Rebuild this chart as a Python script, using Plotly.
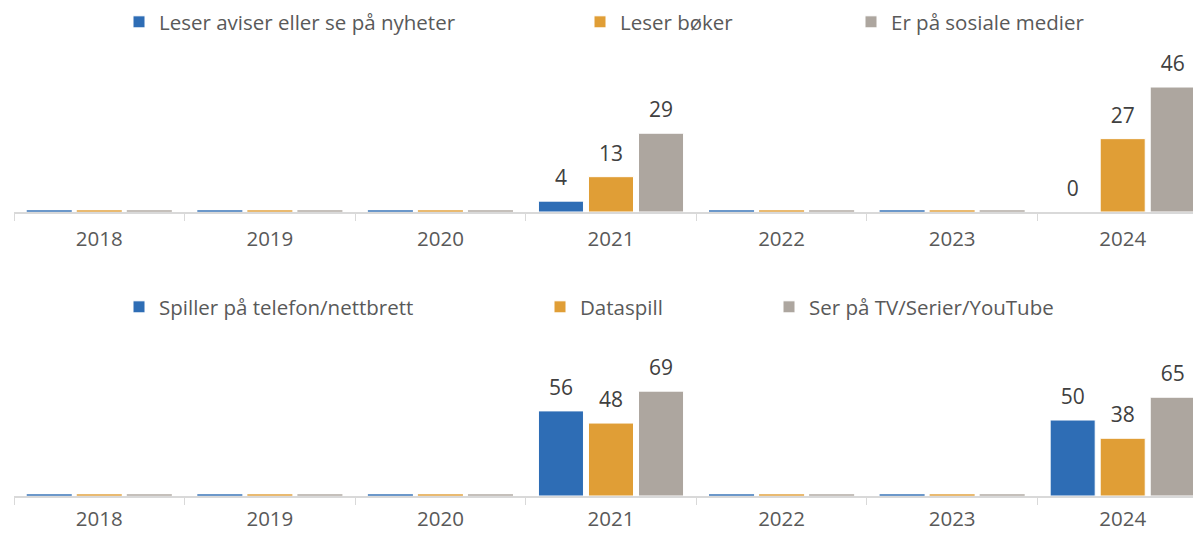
import plotly.graph_objects as go

years = ['2018', '2019', '2020', '2021', '2022', '2023', '2024']

# top panel
aviser = [None, None, None, 4, None, None, 0]
boker = [None, None, None, 13, None, None, 27]
sosiale = [None, None, None, 29, None, None, 46]

# bottom panel
telefon = [None, None, None, 56, None, None, 50]
dataspill = [None, None, None, 48, None, None, 38]
tv = [None, None, None, 69, None, None, 65]

BLUE = '#2E6DB5'
ORANGE = '#E09E36'
GRAY = '#ADA69F'
FONT = 'Open Sans'
# the page body has an 8px margin; plot runs a little past the right edge like the original
W, H = 1200, 525

fig = go.Figure()


def add_series(name, vals, color, grp, xa, ya, leg, stub, pad):
    fig.add_trace(go.Bar(
        x=years, y=vals, name=name, marker_color=color,
        marker_line=dict(color='white', width=1),
        offsetgroup=grp, xaxis=xa, yaxis=ya, legend=leg,
    ))
    # value labels, lifted a bit above the bar
    fig.add_trace(go.Bar(
        x=years, y=vals, base=[pad] * len(vals),
        text=[('' if v is None else str(v)) for v in vals],
        textposition='outside', cliponaxis=False,
        textfont=dict(size=21, color='#404040', family=FONT),
        marker_color='rgba(0,0,0,0)', marker_line_width=0,
        offsetgroup=grp, xaxis=xa, yaxis=ya, showlegend=False,
        hoverinfo='skip',
    ))
    # thin line where there is no data for the year
    fig.add_trace(go.Bar(
        x=years, y=[stub if v is None else None for v in vals],
        marker_color=color, opacity=0.7, marker_line_width=0,
        offsetgroup=grp, xaxis=xa, yaxis=ya, showlegend=False,
        hoverinfo='skip',
    ))


add_series('Leser aviser eller se på nyheter', aviser, BLUE, 'a', 'x', 'y', 'legend', 0.5, 2.6)
add_series('Leser bøker', boker, ORANGE, 'b', 'x', 'y', 'legend2', 0.5, 2.6)
add_series('Er på sosiale medier', sosiale, GRAY, 'c', 'x', 'y', 'legend3', 0.5, 2.6)
add_series('Spiller på telefon/nettbrett', telefon, BLUE, 'a', 'x2', 'y2', 'legend4', 0.9, 4.6)
add_series('Dataspill', dataspill, ORANGE, 'b', 'x2', 'y2', 'legend5', 0.9, 4.6)
add_series('Ser på TV/Serier/YouTube', tv, GRAY, 'c', 'x2', 'y2', 'legend6', 0.9, 4.6)

xax = dict(
    domain=[6 / W, 1], type='category', showline=True, linecolor='#D9D9D9',
    linewidth=1.5, ticks='outside', tickson='boundaries', ticklen=7,
    tickcolor='#D9D9D9', showgrid=False, zeroline=False, automargin=False,
    tickfont=dict(size=20.5, color='#595959', family=FONT),
)

leg = dict(orientation='h', xanchor='left', yanchor='middle',
           font=dict(size=20.5, color='#595959', family=FONT),
           bgcolor='rgba(0,0,0,0)', itemclick=False)

fig.update_layout(
    width=W, height=H,
    margin=dict(l=0, r=0, t=0, b=0, autoexpand=False),
    paper_bgcolor='white', plot_bgcolor='white',
    barmode='group', bargap=0.12, bargroupgap=0.1,
    font=dict(family=FONT, color='#595959'),
    xaxis=dict(xax, anchor='y', ticklabelstandoff=8),
    xaxis2=dict(xax, anchor='y2', ticklabelstandoff=4),
    yaxis=dict(domain=[1 - 204 / H, 1 - 41 / H], range=[0, 60], visible=False),
    yaxis2=dict(domain=[1 - 488 / H, 1 - 333 / H], range=[0, 102], visible=False),
    legend=dict(leg, x=111 / W, y=1 - 14 / H),
    legend2=dict(leg, x=572 / W, y=1 - 14 / H),
    legend3=dict(leg, x=843 / W, y=1 - 14 / H),
    legend4=dict(leg, x=111 / W, y=1 - 299 / H),
    legend5=dict(leg, x=532 / W, y=1 - 299 / H),
    legend6=dict(leg, x=761 / W, y=1 - 299 / H),
)

fig.write_html('out.html')
